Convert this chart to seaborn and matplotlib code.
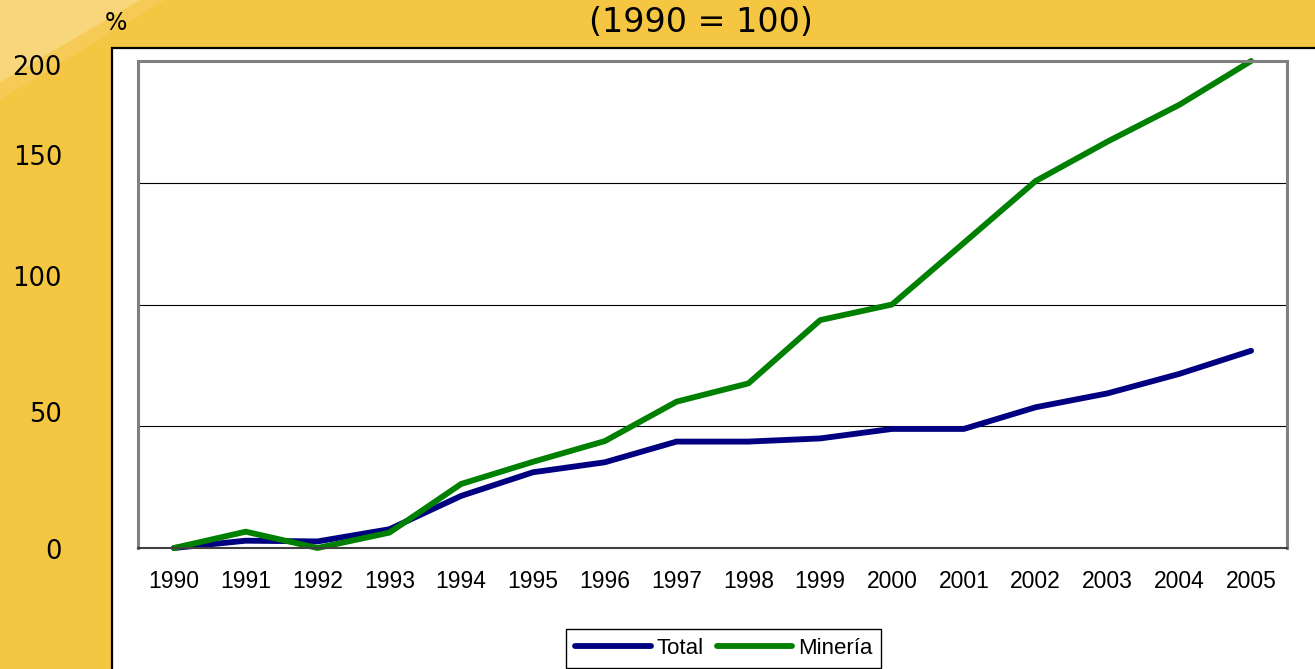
import numpy as np
import pandas as pd
import matplotlib
matplotlib.use("Agg")
import matplotlib.pyplot as plt
from matplotlib.patches import Rectangle, Polygon
import seaborn as sns

# valores (1990 = 100, variación en %)
years = [1990, 1991, 1992, 1993, 1994, 1995, 1996, 1997,
         1998, 1999, 2000, 2001, 2002, 2003, 2004, 2005]
total = [0, 3.0, 2.7, 7.7, 21.4, 31.1, 35.2, 43.7,
         43.7, 45.0, 48.9, 48.9, 57.8, 63.5, 71.5, 81.0]
mineria = [0, 6.7, 0, 6.3, 26.3, 35.4, 43.9, 60.1,
           67.6, 93.6, 100.0, 125.3, 150.7, 166.9, 182.0, 200.0]
series_names = ["Total", "Minería"]
y_ticks = [0, 50, 100, 150, 200]
title = "(1990 = 100)"

df = pd.DataFrame({
    "year": years * 2,
    "value": total + mineria,
    "serie": [series_names[0]] * len(years) + [series_names[1]] * len(years),
})

sns.set_style("white")
plt.rcParams["font.family"] = ["DejaVu Sans"]
plt.rcParams["text.color"] = "black"
plt.rcParams["xtick.color"] = "black"
plt.rcParams["xtick.labelcolor"] = "black"

W, H = 1315, 669
fig = plt.figure(figsize=(W / 100, H / 100), dpi=100)
fig.patch.set_facecolor("#F5C642")

# esquina clara arriba a la izquierda
fig.patches.append(Polygon([(0, 1), (165 / W, 1), (0, 1 - 100 / H)], closed=True,
                           transform=fig.transFigure, facecolor="#F6CB55",
                           edgecolor="none", zorder=-3))
fig.patches.append(Polygon([(0, 1), (140 / W, 1), (0, 1 - 82 / H)], closed=True,
                           transform=fig.transFigure, facecolor="#F8D67C",
                           edgecolor="none", zorder=-3))

# panel blanco
fig.patches.append(Rectangle((112 / W, -0.1), 1.0, 1 - 48 / H + 0.1,
                             transform=fig.transFigure, facecolor="white",
                             edgecolor="black", linewidth=1.6, zorder=-2))

ax = fig.add_axes([138 / W, 1 - 548 / H, (1287 - 138) / W, (548 - 61) / H])
ax.set_facecolor("white")

sns.lineplot(data=df, x="year", y="value", hue="serie",
             palette={"Total": "#000080", "Minería": "#008000"},
             linewidth=4.2, ax=ax, clip_on=False, solid_capstyle="round")

ax.set_xlim(years[0] - 0.5, years[-1] + 0.5)
ax.set_ylim(y_ticks[0], y_ticks[-1])
ax.set_xlabel("")
ax.set_ylabel("")

ax.set_yticks(y_ticks)
ax.set_yticklabels([])
ax.tick_params(axis="y", length=0)
ax.yaxis.grid(True, color="black", linewidth=0.8)
ax.set_axisbelow(True)

ax.set_xticks(years)
ax.set_xticklabels([str(y) for y in years], fontfamily="Liberation Sans",
                   fontsize=16.5, color="black")
ax.tick_params(axis="x", which="major", length=0, pad=16)
ax.set_xticks(np.arange(years[0] - 0.5, years[-1] + 1), minor=True)
ax.tick_params(axis="x", which="minor", length=6, width=1, color="#404040", direction="out")

for side in ["left", "top", "right"]:
    ax.spines[side].set_color("#808080")
    ax.spines[side].set_linewidth(2.2)
ax.spines["bottom"].set_color("#404040")
ax.spines["bottom"].set_linewidth(1.5)

# etiquetas del eje y tal como aparecen en la franja amarilla
label_y = [552, 415, 279, 158, 68]
for v, py in zip(y_ticks, label_y):
    fig.text(62 / W, 1 - py / H, str(v), ha="right", va="center", fontsize=18.5,
             color="black")
fig.text(116 / W, 1 - 23 / H, "%", ha="center", va="center", fontsize=17, color="black")
fig.text(701 / W, 1 - 22 / H, title, ha="center", va="center", fontsize=24, color="black")

handles, labels = ax.get_legend_handles_labels()
leg = ax.legend(handles, labels, loc="upper center",
                bbox_to_anchor=(723.5 / W, 1 - 629 / H), bbox_transform=fig.transFigure,
                ncol=2, frameon=True, fancybox=False, edgecolor="black", facecolor="white",
                framealpha=1, handlelength=3.4, handletextpad=0.25, columnspacing=0.6,
                borderaxespad=0, borderpad=0.4,
                prop={"family": "Liberation Sans", "size": 16})
leg.get_frame().set_linewidth(1.0)
for t in leg.get_texts():
    t.set_color("black")

fig.savefig("out.png", dpi=100, facecolor=fig.get_facecolor())
